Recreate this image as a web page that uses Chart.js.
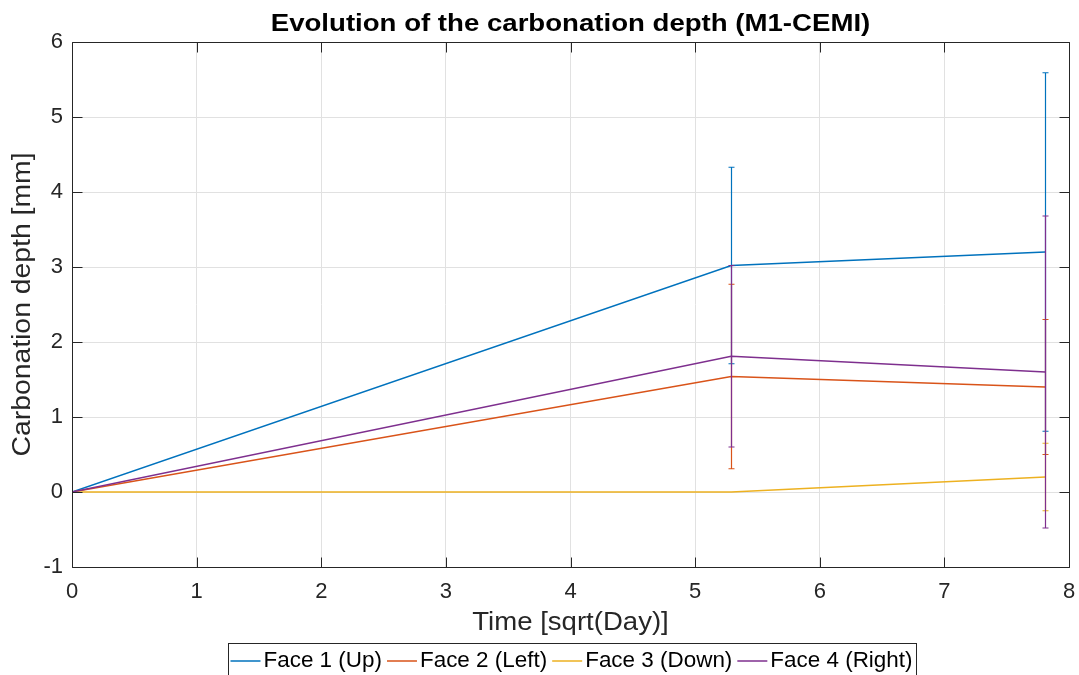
<!DOCTYPE html>
<html>
<head>
<meta charset="utf-8">
<script src="https://cdn.jsdelivr.net/npm/chart.js@4.4.1/dist/chart.umd.min.js"></script>
<style>
  html, body { margin: 0; padding: 0; background: #fff; }
  #wrap { width: 1079px; height: 675px; position: relative; }
</style>
</head>
<body>
<div id="wrap"><canvas id="chart" width="1079" height="675"></canvas></div>
<script>
// measurement times, sqrt(days)
const timeSqrtDay = [0, 5.29, 7.81];

// mean depth [mm] and half-width of the error bar, per face
const face1Depth = [0, 3.02, 3.20];
const face1Err   = [0, 1.31, 2.39];
const face2Depth = [0, 1.54, 1.40];
const face2Err   = [0, 1.23, 0.90];
const face3Depth = [0, 0, 0.20];
const face3Err   = [0, 0, 0.45];
const face4Depth = [0, 1.81, 1.60];
const face4Err   = [0, 1.21, 2.08];

const faceLabels = ['Face 1 (Up)', 'Face 2 (Left)', 'Face 3 (Down)', 'Face 4 (Right)'];
const faceColors = ['#0072BD', '#D95319', '#EDB120', '#7E2F8E'];

const xTicks = [0, 1, 2, 3, 4, 5, 6, 7, 8];
const yTicks = [-1, 0, 1, 2, 3, 4, 5, 6];

const chartTitle = 'Evolution of the carbonation depth (M1-CEMI)';
const xTitle = 'Time [sqrt(Day)]';
const yTitle = 'Carbonation depth [mm]';

const FONT = '"Liberation Sans", Arial, Helvetica, sans-serif';
const AXIS_COLOR = '#262626';

function toPoints(ys) {
  return ys.map((y, i) => ({ x: timeSqrtDay[i], y: y }));
}

const depths = [face1Depth, face2Depth, face3Depth, face4Depth];
const errors = [face1Err, face2Err, face3Err, face4Err];

const datasets = depths.map((d, i) => ({
  label: faceLabels[i],
  data: toPoints(d),
  errors: errors[i],
  borderColor: faceColors[i],
  backgroundColor: faceColors[i],
  borderWidth: 1.5,
  pointRadius: 0,
  showLine: true,
  tension: 0,
  order: 3 - i
}));

// text stretched along its baseline
function wideText(ctx, text, x, y, sx) {
  ctx.save();
  ctx.translate(x, y);
  ctx.scale(sx, 1);
  ctx.fillText(text, 0, 0);
  ctx.restore();
}

// vertical error bars with small caps, drawn right after each line
const errorBars = {
  id: 'errorBars',
  afterDatasetDraw(chart, args) {
    const ds = chart.data.datasets[args.index];
    const { x: xs, y: ys } = chart.scales;
    const ctx = chart.ctx;
    ctx.save();
    ctx.strokeStyle = ds.borderColor;
    ctx.lineWidth = 1.2;
    ds.data.forEach((p, j) => {
      const e = ds.errors[j];
      if (!e) return;
      const px = Math.round(xs.getPixelForValue(p.x)) + 0.5;
      const top = ys.getPixelForValue(p.y + e);
      const bot = ys.getPixelForValue(p.y - e);
      ctx.beginPath();
      ctx.moveTo(px, top);
      ctx.lineTo(px, bot);
      ctx.moveTo(px - 3, top);
      ctx.lineTo(px + 3, top);
      ctx.moveTo(px - 3, bot);
      ctx.lineTo(px + 3, bot);
      ctx.stroke();
    });
    ctx.restore();
  }
};

// axes box with inward ticks on all four sides, titles and legend
const frame = {
  id: 'frame',
  afterDraw(chart) {
    const ctx = chart.ctx;
    const a = chart.chartArea;
    const { x: xs, y: ys } = chart.scales;
    const L = Math.round(a.left) + 0.5, R = Math.round(a.right) + 0.5;
    const T = Math.round(a.top) + 0.5, B = Math.round(a.bottom) + 0.5;
    ctx.save();
    ctx.strokeStyle = AXIS_COLOR;
    ctx.lineWidth = 1;
    ctx.beginPath();
    ctx.rect(L, T, R - L, B - T);
    const tl = 10;
    xTicks.forEach(v => {
      const px = Math.round(xs.getPixelForValue(v)) + 0.5;
      ctx.moveTo(px, B); ctx.lineTo(px, B - tl);
      ctx.moveTo(px, T); ctx.lineTo(px, T + tl);
    });
    yTicks.forEach(v => {
      const py = Math.round(ys.getPixelForValue(v)) + 0.5;
      ctx.moveTo(L, py); ctx.lineTo(L + tl, py);
      ctx.moveTo(R, py); ctx.lineTo(R - tl, py);
    });
    ctx.stroke();

    const midX = (a.left + a.right) / 2;
    ctx.textAlign = 'center';
    ctx.textBaseline = 'middle';
    ctx.fillStyle = '#000';
    ctx.font = 'bold 24px ' + FONT;
    wideText(ctx, chartTitle, midX, 24, 1.15);

    ctx.fillStyle = AXIS_COLOR;
    ctx.font = '26px ' + FONT;
    wideText(ctx, xTitle, midX, 623, 1.06);

    ctx.save();
    ctx.translate(23, (a.top + a.bottom) / 2);
    ctx.rotate(-Math.PI / 2);
    wideText(ctx, yTitle, 0, 0, 1.09);
    ctx.restore();

    // legend
    ctx.font = '22px ' + FONT;
    ctx.textAlign = 'left';
    const bx = 228.5, by = 643.5, bw = 688, bh = 40;
    ctx.fillStyle = '#fff';
    ctx.fillRect(bx, by, bw, bh);
    ctx.strokeStyle = AXIS_COLOR;
    ctx.lineWidth = 1;
    ctx.strokeRect(bx, by, bw, bh);
    let cx = bx + 2;
    const cy = 661;
    chart.data.datasets.forEach(ds => {
      ctx.strokeStyle = ds.borderColor;
      ctx.lineWidth = 1.5;
      ctx.beginPath();
      ctx.moveTo(cx, cy);
      ctx.lineTo(cx + 30, cy);
      ctx.stroke();
      cx += 33;
      ctx.fillStyle = '#000';
      wideText(ctx, ds.label, cx, cy, 1.02);
      cx += ctx.measureText(ds.label).width * 1.02 + 5;
    });
    ctx.restore();
  }
};

new Chart(document.getElementById('chart'), {
  type: 'scatter',
  data: { datasets: datasets },
  options: {
    responsive: false,
    animation: false,
    layout: { padding: { left: 0, right: 10, top: 42, bottom: 0 } },
    plugins: {
      legend: { display: false },
      tooltip: { enabled: false },
      title: { display: false }
    },
    scales: {
      x: {
        type: 'linear',
        min: 0,
        max: 8,
        afterFit(scale) {
          scale.height = 108;
          scale.paddingLeft = 0;
          scale.paddingRight = 0;
        },
        afterBuildTicks(scale) { scale.ticks = xTicks.map(v => ({ value: v })); },
        grid: { color: '#e1e1e1', drawTicks: false },
        border: { display: false },
        ticks: {
          padding: 12,
          color: AXIS_COLOR,
          font: { family: FONT, size: 22 },
          maxRotation: 0
        }
      },
      y: {
        type: 'linear',
        min: -1,
        max: 6,
        afterFit(scale) {
          scale.width = 72;
          scale.paddingTop = 0;
          scale.paddingBottom = 0;
        },
        afterBuildTicks(scale) { scale.ticks = yTicks.map(v => ({ value: v })); },
        grid: { color: '#e1e1e1', drawTicks: false },
        border: { display: false },
        ticks: {
          padding: 9,
          color: AXIS_COLOR,
          font: { family: FONT, size: 22 }
        }
      }
    }
  },
  plugins: [errorBars, frame]
});
</script>
</body>
</html>
